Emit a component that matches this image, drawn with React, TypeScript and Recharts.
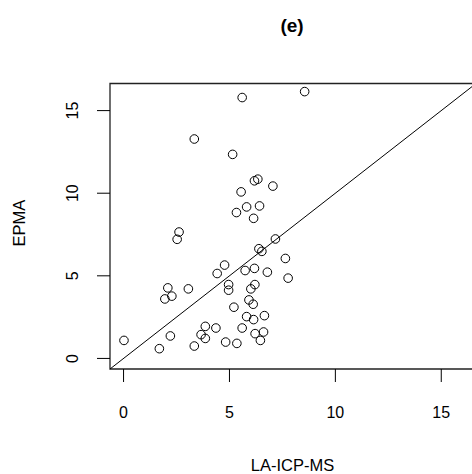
import React from 'react';
import { ScatterChart, Scatter, XAxis, YAxis, ReferenceArea, ReferenceLine } from 'recharts';

// LA-ICP-MS (x) vs EPMA (y)
const laIcpMs = [
    8.55, 5.6, 3.34, 5.15, 6.18, 6.34, 7.05, 5.55, 5.81, 6.42, 5.33, 6.14, 2.62,
    2.53, 7.17, 6.39, 6.53, 7.64, 4.77, 4.42, 5.74, 6.18, 6.79, 7.77, 2.09, 3.06,
    4.96, 4.96, 6.2, 6.01, 1.95, 2.28, 5.92, 6.12, 5.21, 5.81, 6.65, 6.14, 3.86,
    4.36, 5.6, 3.66, 3.86, 2.21, 6.21, 6.61, 6.46, 0.02, 1.69, 3.34, 4.82, 5.35,
];
const epma = [
    16.15, 15.79, 13.28, 12.35, 10.75, 10.85, 10.43, 10.08, 9.17, 9.23, 8.83, 8.48, 7.65,
    7.21, 7.23, 6.64, 6.48, 6.05, 5.65, 5.14, 5.32, 5.45, 5.22, 4.86, 4.27, 4.21,
    4.47, 4.13, 4.47, 4.21, 3.6, 3.77, 3.54, 3.28, 3.1, 2.53, 2.59, 2.35, 1.94,
    1.84, 1.84, 1.44, 1.21, 1.36, 1.5, 1.6, 1.09, 1.09, 0.59, 0.75, 0.99, 0.91,
];
const axisTicks = [0, 5, 10, 15];
const axisRange = [-0.64, 16.64];

const points = laIcpMs.map((x, i) => ({ x, y: epma[i] }));

const font = 'Arial, "Liberation Sans", sans-serif';

const XTick = (props: any) => (
    <text x={props.x} y={417.5} textAnchor="middle" fontFamily={font} fontSize={16} fill="#000">
        {props.payload.value}
    </text>
);

const YTick = (props: any) => (
    <text
        x={78}
        y={props.y}
        transform={`rotate(-90 78 ${props.y})`}
        textAnchor="middle"
        fontFamily={font}
        fontSize={16}
        fill="#000"
    >
        {props.payload.value}
    </text>
);

const OpenCircle = (props: any) => (
    <circle cx={props.cx} cy={props.cy} r={4.3} fill="none" stroke="#000" strokeWidth={1} />
);

const App = () => {
    return (
        <div style={{ position: 'absolute', left: 0, top: 0, width: 472, height: 474, overflow: 'hidden', background: '#fff' }}>
            <ScatterChart width={480} height={474} margin={{ top: 83.5, right: 4, bottom: 0, left: 0 }}>
                <XAxis
                    type="number"
                    dataKey="x"
                    domain={axisRange}
                    ticks={axisTicks}
                    allowDataOverflow
                    height={105}
                    axisLine={false}
                    tickSize={13}
                    tickLine={{ stroke: '#000' }}
                    tick={<XTick />}
                />
                <YAxis
                    type="number"
                    dataKey="y"
                    domain={axisRange}
                    ticks={axisTicks}
                    allowDataOverflow
                    width={110}
                    axisLine={false}
                    tickSize={13}
                    tickLine={{ stroke: '#000' }}
                    tick={<YTick />}
                />
                <ReferenceArea
                    x1={axisRange[0]}
                    x2={axisRange[1]}
                    y1={axisRange[0]}
                    y2={axisRange[1]}
                    fill="none"
                    stroke="#222"
                    strokeWidth={1.3}
                />
                <ReferenceLine
                    segment={[{ x: axisRange[0], y: axisRange[0] }, { x: axisRange[1], y: axisRange[1] }]}
                    stroke="#000"
                    strokeWidth={1}
                />
                <Scatter data={points} shape={<OpenCircle />} isAnimationActive={false} />
            </ScatterChart>
            <svg width={472} height={474} style={{ position: 'absolute', left: 0, top: 0, pointerEvents: 'none' }}>
                <text x={292} y={32} textAnchor="middle" fontFamily={font} fontSize={19} fontWeight="bold" fill="#000">
                    (e)
                </text>
                <text x={292.5} y={471} textAnchor="middle" fontFamily={font} fontSize={16.5} fill="#000">
                    LA-ICP-MS
                </text>
                <text x={25} y={223} transform="rotate(-90 25 223)" textAnchor="middle" fontFamily={font} fontSize={16.5} fill="#000">
                    EPMA
                </text>
            </svg>
        </div>
    );
};

export default App;
